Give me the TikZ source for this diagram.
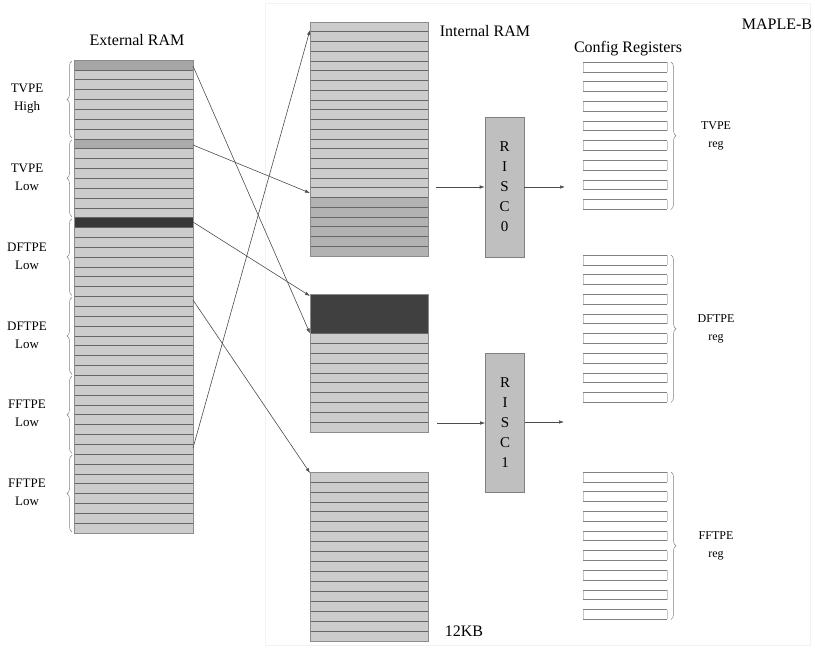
\documentclass[tikz,border=0pt]{standalone}
\usepackage{fontspec}
\setmainfont{Liberation Serif}
\usetikzlibrary{decorations.pathreplacing,arrows.meta}
\begin{document}
\begin{tikzpicture}[x=1pt,y=-1pt,
  rowline/.style={draw=black!60,line width=0.6pt},
  blockedge/.style={draw=black!45,line width=0.6pt},
  reghline/.style={draw=black!50,line width=0.6pt},
  regvline/.style={draw=black!22,line width=0.5pt},
  conn/.style={draw=black!70,line width=0.6pt,-{Latex[length=5pt,width=3.5pt]}},
  bracel/.style={draw=black!50,line width=0.5pt,decorate,decoration={brace,amplitude=5pt}},
  title/.style={font=\fontsize{16}{19}\selectfont,inner sep=0pt},
  lbl/.style={font=\fontsize{13}{18}\selectfont,align=center,inner sep=0pt},
  rlbl/.style={font=\fontsize{12}{18}\selectfont,align=center,inner sep=0pt},
  risc/.style={draw=black!50,fill=black!25,line width=0.6pt,minimum width=39pt,inner sep=0pt,align=center,font=\fontsize{15}{20}\selectfont}
]
\useasboundingbox (0,0) rectangle (815,649);
% faint outer frame
\draw[black!5,line width=0.8pt] (265,3) rectangle (810,645);

% ---------------- External RAM ----------------
\fill[black!20] (74,60) rectangle (193,533);
\fill[black!35] (74,60) rectangle (193,69.85);
\fill[black!33] (74,138.8) rectangle (193,148.7);
\fill[black!78] (74,217.7) rectangle (193,227.5);
\foreach \i in {1,...,47} \draw[rowline] (74,{60+\i*9.854}) -- (193,{60+\i*9.854});
\draw[blockedge] (74,60) rectangle (193,533);
\node[title] (extt) at (137,40) {External RAM};

% braces and labels
\foreach \k/\a/\b in {0/TVPE/High,1/TVPE/Low,2/DFTPE/Low,3/DFTPE/Low,4/FFTPE/Low,5/FFTPE/Low}{
  \draw[bracel] (72,{60+(\k+1)*78.83-1}) -- (72,{60+\k*78.83+1});
  \node[lbl] (el\k) at (27,{60+(\k+0.5)*78.83-1}) {\a\\\b};
}

% ---------------- Internal RAM ----------------
% block 1
\fill[black!20] (310,22) rectangle (428,256);
\fill[black!30] (310,197.5) rectangle (428,256);
\foreach \i in {1,...,23} \draw[rowline] (310,{22+\i*9.75}) -- (428,{22+\i*9.75});
\draw[blockedge] (310,22) rectangle (428,256);
% block 2
\fill[black!20] (310,294) rectangle (428,432);
\fill[black!75] (310,294) rectangle (428,333.4);
\foreach \i in {4,...,13} \draw[rowline] (310,{294+\i*9.857}) -- (428,{294+\i*9.857});
\draw[blockedge] (310,294) rectangle (428,432);
% block 3
\fill[black!20] (310,472) rectangle (428,641);
\foreach \i in {1,...,16} \draw[rowline] (310,{472+\i*9.94}) -- (428,{472+\i*9.94});
\draw[blockedge] (310,472) rectangle (428,641);

\node[title] (intt) at (485,31) {Internal RAM};
\node[title] (kb) at (464,631) {12KB};
\node[title] (maple) at (777,24) {MAPLE-B};

% connector end points
\coordinate (e0) at (193,66);
\coordinate (e1) at (193,145);
\coordinate (e2) at (193,222);
\coordinate (e3) at (193,300);
\coordinate (e4) at (193,448);
\coordinate (i0) at (310,30);
\coordinate (i1) at (310,193);
\coordinate (i2) at (310,296);
\coordinate (i3) at (310,333.4);
\coordinate (i4) at (310,473);
\draw[conn] (e0) -- (i3);
\draw[conn] (e1) -- (i1);
\draw[conn] (e2) -- (i2);
\draw[conn] (e3) -- (i4);
\draw[conn] (e4) -- (i0);

% ---------------- RISC ----------------
\node[risc,minimum height=140pt] (r0) at (504.5,187) {R\\I\\S\\C\\0};
\node[risc,minimum height=139pt] (r1) at (505,422.5) {R\\I\\S\\C\\1};
\coordinate (b1) at (436,187);
\coordinate (c1) at (565,187);
\coordinate (b2) at (437,423);
\coordinate (c2) at (564,422);
\draw[conn] (b1) -- (r0.west |- b1);
\draw[conn] (r0.east |- c1) -- (c1);
\draw[conn] (b2) -- (r1.west |- b2);
\draw[conn] (r1.east |- c2) -- (c2);

% ---------------- Config registers ----------------
\node[title] (cfgt) at (628,49) {Config Registers};
\foreach \t/\g/\a in {62/0/TVPE,255/1/DFTPE,472/2/FFTPE}{
  \foreach \j in {0,...,7}{
    \draw[regvline] (583,{\t+\j*19.65}) -- (583,{\t+\j*19.65+9.8});
    \draw[regvline] (667,{\t+\j*19.65}) -- (667,{\t+\j*19.65+9.8});
    \draw[reghline] (583,{\t+\j*19.65}) -- (667,{\t+\j*19.65});
    \draw[reghline] (583,{\t+\j*19.65+9.8}) -- (667,{\t+\j*19.65+9.8});
  }
  \draw[bracel] (671,\t) -- (671,{\t+147.4});
  \node[rlbl] (rl\g) at (716,{\t+74}) {\a\\reg};
}
\end{tikzpicture}
\end{document}
